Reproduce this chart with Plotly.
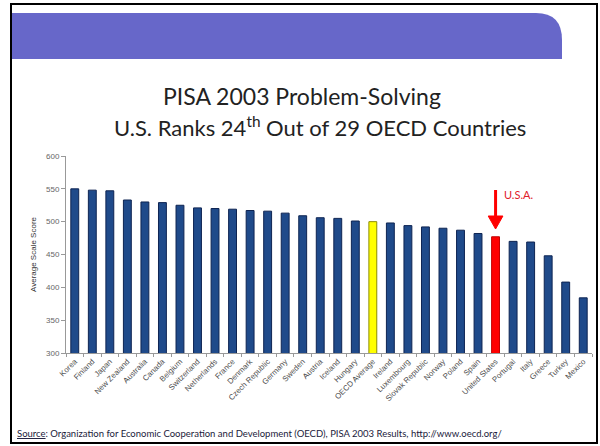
import plotly.graph_objects as go

countries = ["Korea", "Finland", "Japan", "New Zealand", "Australia", "Canada", "Belgium",
             "Switzerland", "Netherlands", "France", "Denmark", "Czech Republic", "Germany",
             "Sweden", "Austria", "Iceland", "Hungary", "OECD Average", "Ireland", "Luxembourg",
             "Slovak Republic", "Norway", "Poland", "Spain", "United States", "Portugal",
             "Italy", "Greece", "Turkey", "Mexico"]
scores = [550, 548, 547, 533, 530, 529, 525, 521, 520, 519, 517, 516, 513, 509, 506, 505,
          501, 500, 498, 494, 492, 490, 487, 482, 477, 470, 469, 448, 408, 384]
y_ticks = [300, 350, 400, 450, 500, 550, 600]

title_line1 = "PISA 2003 Problem-Solving"
title_line2 = "U.S. Ranks 24<sup>th</sup> Out of 29 OECD Countries"
source_text = ("<span style='text-decoration:underline'>Source</span>: Organization for Economic "
               "Cooperation and Development (OECD), PISA 2003 Results, http://www.oecd.org/")
highlight_label = "U.S.A."
highlight_country = "United States"

W, H = 600, 446
L, R, T, B = 66, 8, 156, 93
PW, PH = W - L - R, H - T - B
Y0, Y1 = 300, 600


def px(x):
    return (x - L) / PW


def py(y):
    return (H - B - y) / PH


def pix_to_val(y):
    # pixel row -> y-axis value (for the annotation arrow)
    return Y0 + (H - B - y) / PH * (Y1 - Y0)


fill = []
edge = []
for c in countries:
    if c == "OECD Average":
        fill.append("#FFFF00"); edge.append("#8C8C00")
    elif c == highlight_country:
        fill.append("#FF0000"); edge.append("#C00000")
    else:
        fill.append("#1F4A8A"); edge.append("#0E2452")

fig = go.Figure(go.Bar(x=countries, y=scores, marker=dict(color=fill, line=dict(color=edge, width=1)),
                       hoverinfo="x+y"))

font_main = "Lato, 'Open Sans', sans-serif"

fig.update_layout(
    width=W, height=H,
    margin=dict(l=L, r=R, t=T, b=B, pad=0, autoexpand=False),
    paper_bgcolor="white", plot_bgcolor="white",
    bargap=0.55, showlegend=False,
    font=dict(family="Arial, 'Liberation Sans', sans-serif", color="#555555", size=7),
    xaxis=dict(type="category", showline=True, linecolor="#999999", linewidth=1,
               ticks="outside", ticklen=3, tickcolor="#999999", tickson="boundaries",
               tickangle=-45, tickfont=dict(size=7.8, color="#4d4d4d"), showgrid=False,
               automargin=False),
    yaxis=dict(range=[Y0, Y1], tickvals=y_ticks, showline=True, linecolor="#999999",
               linewidth=1, ticks="outside", ticklen=4, tickcolor="#999999",
               tickfont=dict(size=8, color="#666666"), showgrid=False, zeroline=False,
               automargin=False,
               title=dict(text="Average Scale Score", font=dict(size=8, color="#333333"),
                          standoff=8)),
)

ius = countries.index(highlight_country)
tail_val = pix_to_val(190)
tip_val = pix_to_val(229)
head_val = pix_to_val(216)

shapes = [
    # slide frame
    dict(type="rect", xref="paper", yref="paper", x0=px(11), x1=px(597), y0=py(443), y1=py(4),
         line=dict(color="black", width=2), fillcolor="rgba(0,0,0,0)", layer="below"),
    # banner with rounded top-right corner
    dict(type="path", xref="paper", yref="paper",
         path=(f"M {px(12)},{py(13)} L {px(536)},{py(13)} "
               f"Q {px(562)},{py(13)} {px(562)},{py(40)} "
               f"L {px(562)},{py(59)} L {px(12)},{py(59)} Z"),
         fillcolor="#6767C9", line=dict(width=0), layer="below"),
    # arrow shaft
    dict(type="line", xref="x", yref="y", x0=ius, x1=ius, y0=tail_val, y1=head_val,
         line=dict(color="#FF0000", width=3)),
    # arrow head
    dict(type="path", xref="x", yref="y",
         path=f"M {ius - 0.42},{head_val} L {ius + 0.42},{head_val} L {ius},{tip_val} Z",
         fillcolor="#FF0000", line=dict(color="#FF0000", width=1)),
]
fig.update_layout(shapes=shapes)

annotations = [
    dict(xref="paper", yref="paper", x=px(302), y=py(96), text=title_line1, showarrow=False,
         font=dict(family=font_main, size=23, color="#222222"), xanchor="center", yanchor="middle"),
    dict(xref="paper", yref="paper", x=px(320), y=py(126), text=title_line2, showarrow=False,
         font=dict(family=font_main, size=22, color="#222222"), xanchor="center", yanchor="middle"),
    dict(xref="paper", yref="paper", x=px(15), y=py(433), text=source_text, showarrow=False,
         font=dict(family=font_main, size=9.5, color="#1a1a3a"), xanchor="left", yanchor="middle"),
    dict(x=highlight_country, y=tail_val, text=highlight_label,
         showarrow=False, xanchor="left", yanchor="middle", xshift=6, yshift=-4,
         font=dict(family=font_main, size=11, color="#E0202A")),
]
fig.update_layout(annotations=annotations)

fig.write_html("out.html", config={"displayModeBar": False},
               post_script="document.body.style.margin='0';")
